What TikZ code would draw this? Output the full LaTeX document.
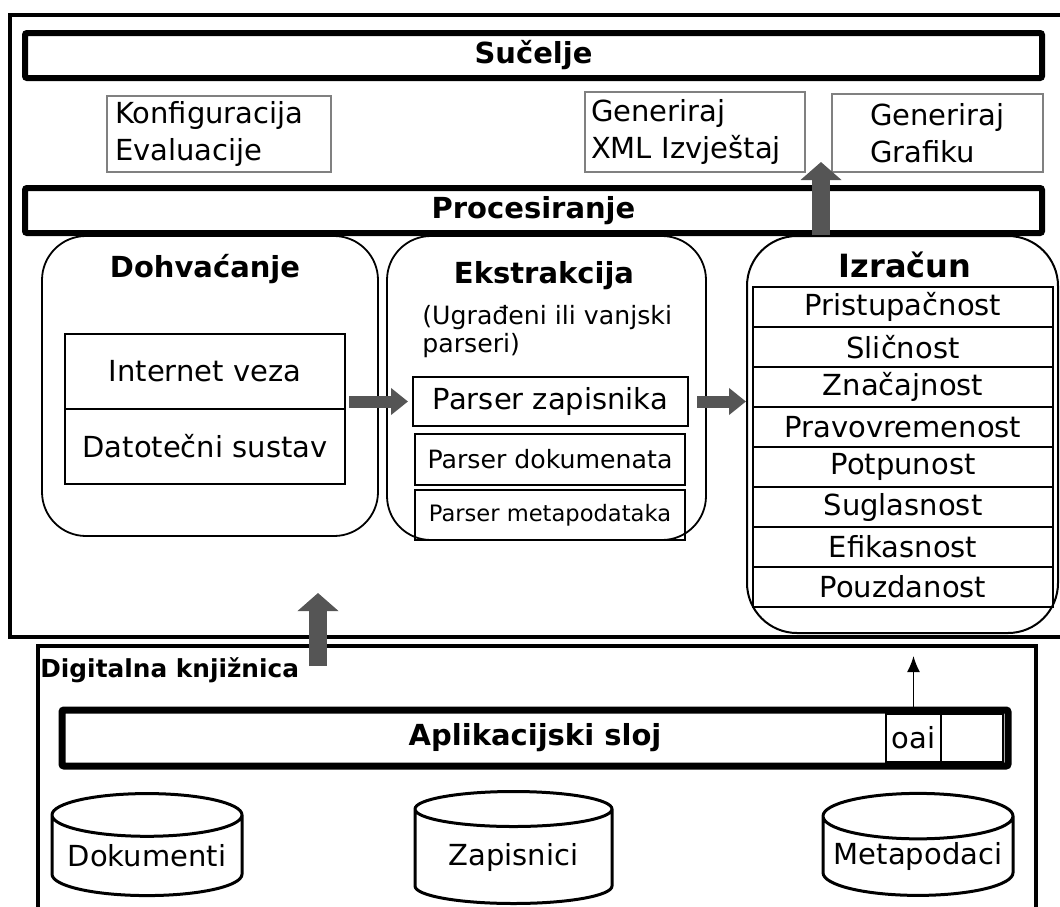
\documentclass[tikz,border=0pt]{standalone}
\usepackage{fontspec}
\setmainfont{DejaVu Sans}
\usetikzlibrary{arrows.meta,shapes.geometric}
\definecolor{arrowGray}{HTML}{555555}
\definecolor{frameGray}{HTML}{808080}

\begin{document}
\begin{tikzpicture}[x=0.5pt, y=-0.5pt,
    every node/.style={inner sep=0pt, font=\fontsize{14.5}{18}\selectfont},
    frameStyle/.style={rectangle, draw, line width=2pt},
    barStyle/.style={rectangle, draw, line width=3pt, rounded corners=1pt, minimum width=508.5pt, minimum height=22.5pt, font=\fontsize{14.5}{18}\selectfont\bfseries},
    noteStyle/.style={rectangle, draw=frameGray, line width=0.6pt, align=left, font=\fontsize{14.5}{18.5}\selectfont},
    roundStyle/.style={rectangle, draw, line width=0.9pt, rounded corners=22pt},
    cellStyle/.style={rectangle, draw, line width=1pt},
    rowStyle/.style={cellStyle, minimum width=150pt, minimum height=20pt},
    titleStyle/.style={anchor=base, font=\fontsize{14.5}{18}\selectfont\bfseries},
    dbStyle/.style={cylinder, shape border rotate=90, draw, line width=1.5pt, aspect=0.27, minimum width=95pt, minimum height=51pt},
    fatArrow/.style={draw=arrowGray, line width=9pt, -{Triangle[length=9pt, width=20pt]}},
    sideArrow/.style={draw=arrowGray, line width=6pt, -{Triangle[length=8.5pt, width=13pt]}},
    thinArrow/.style={draw, line width=0.8pt, -{Latex[length=8pt, width=6.5pt]}}]
    \clip (0,0) rectangle (1060,906);

    % gornji dio: procesiranje
    \node[frameStyle, minimum width=526pt, minimum height=311pt] (procFrame) at (536, 325.5) {};
    \node[barStyle] (sucelje) at (533.5, 55.5) {Sučelje};
    \node[noteStyle, text width=104pt, inner xsep=4pt, minimum height=38pt] (konfig) at (219, 134) {Konfiguracija\\Evaluacije};
    \node[noteStyle, text width=104pt, inner xsep=3pt, minimum height=40pt] (xmlIzvj) at (695, 132) {Generiraj\\XML Izvještaj};
    \node[noteStyle, text width=67.5pt, inner xsep=19pt, minimum height=39pt] (grafika) at (937.5, 133) {Generiraj\\Grafiku};
    \node[barStyle] (procesiranje) at (533.5, 210.5) {Procesiranje};

    \node[roundStyle, minimum width=168pt, minimum height=150pt] (dohv) at (210, 386) {};
    \node[titleStyle] (dohvTitle) at (205, 277) {Dohvaćanje};
    \node[cellStyle, minimum width=140pt, minimum height=37.5pt] (internet) at (205, 371.5) {Internet veza};
    \node[cellStyle, minimum width=140pt, minimum height=37.5pt] (datot) at (205, 446.5) {Datotečni sustav};

    \node[roundStyle, minimum width=159.5pt, minimum height=152pt] (ekstr) at (546.5, 388) {};
    \node[titleStyle] (ekstrTitle) at (544, 283) {Ekstrakcija};
    \node[anchor=base west, align=left, font=\fontsize{12.6}{14}\selectfont] (ekstrNote) at (422, 352) {(Ugrađeni ili vanjski\\parseri)};
    \node[cellStyle, minimum width=137.5pt, minimum height=24.5pt] (zapisnik) at (550.5, 401.5) {Parser zapisnika};
    \node[cellStyle, minimum width=135pt, minimum height=25.5pt, font=\fontsize{12.6}{15}\selectfont] (dokum) at (550, 459.5) {Parser dokumenata};
    \node[cellStyle, minimum width=135pt, minimum height=25pt, font=\fontsize{11.3}{14}\selectfont] (metapod) at (550, 515) {Parser metapodataka};

    \node[roundStyle, line width=1pt, rounded corners=25pt, minimum width=155.5pt, minimum height=198.5pt] (izracun) at (902.5, 434.5) {};
    \node[titleStyle, font=\fontsize{16}{19}\selectfont\bfseries] (izrTitle) at (905, 277) {Izračun};
    \node[rowStyle] (pristup) at (903, 307) {Pristupačnost};
    \node[rowStyle] (slicnost) at (903, 347) {Sličnost};
    \node[rowStyle] (znacaj) at (903, 387) {Značajnost};
    \node[rowStyle] (pravovrem) at (903, 427) {Pravovremenost};
    \node[rowStyle] (potpun) at (903, 467) {Potpunost};
    \node[rowStyle] (suglas) at (903, 507) {Suglasnost};
    \node[rowStyle] (efikas) at (903, 547) {Efikasnost};
    \node[rowStyle] (pouzdan) at (903, 587) {Pouzdanost};

    % donji dio: digitalna knjiznica
    \node[frameStyle, minimum width=499pt, minimum height=137pt] (dlFrame) at (537, 783) {};
    \node[anchor=base west, font=\fontsize{12.4}{15}\selectfont\bfseries] (dlTitle) at (40, 677) {Digitalna knjižnica};
    \node[barStyle, line width=3.5pt, minimum width=473pt, minimum height=28pt] (aplik) at (535, 738) {Aplikacijski sloj};
    \node[cellStyle, line width=0.8pt, minimum width=27.5pt, minimum height=24pt] (oai) at (913.5, 738) {oai};
    \node[cellStyle, line width=0.8pt, minimum width=31pt, minimum height=24pt] (oaiRest) at (972, 738) {};

    \node[dbStyle] (dokumenti) at (147, 856) {Dokumenti};
    \node[dbStyle, minimum width=98.5pt, minimum height=56pt] (zapisnici) at (513.5, 857) {Zapisnici};
    \node[dbStyle] (metapodaci) at (918, 856.5) {Metapodaci};

    % strelice
    \coordinate (dlOut) at (318, 666);
    \coordinate (procIn) at (318, 593);
    \coordinate (grafTip) at (821, 162);
    \coordinate (oaiTip) at (913.5, 656);
    \draw[sideArrow, shorten <=1.5pt, shorten >=2pt] (internet.east |- zapisnik.west) -- (zapisnik.west);
    \draw[sideArrow, shorten <=4pt] (zapisnik.east) -- (izracun.west |- zapisnik.east);
    \draw[fatArrow] (izracun.north -| grafTip) -- (grafTip);
    \draw[fatArrow] (dlOut) -- (procIn);
    \draw[thinArrow] (oai.north) -- (oaiTip);
\end{tikzpicture}
\end{document}
